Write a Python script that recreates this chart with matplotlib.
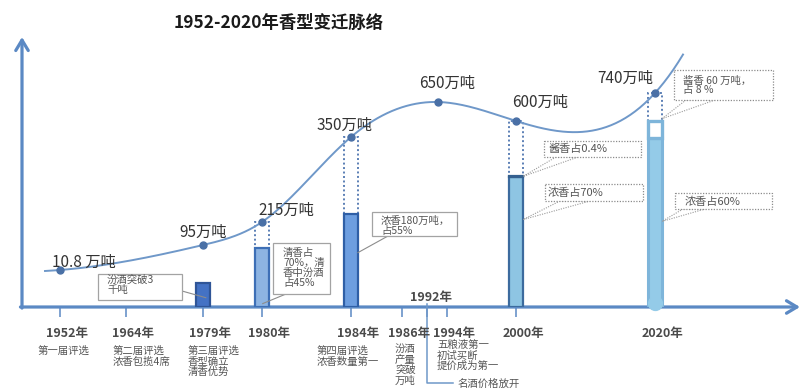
import numpy as np
import matplotlib
matplotlib.use('Agg')
import matplotlib.pyplot as plt
from matplotlib.patches import Rectangle, Polygon

plt.rcParams['font.family'] = ['Noto Sans CJK SC', 'DejaVu Sans']

# ---------------- data ----------------
title = '1952-2020年香型变迁脉络'

# baijiu output (万吨) along the curve
prod_years = ['1952', '1979', '1980', '1984', '1993', '2000', '2020']
prod_values = [10.8, 95, 215, 350, 650, 600, 740]
prod_labels = ['10.8 万吨', '95万吨', '215万吨', '350万吨', '650万吨', '600万吨', '740万吨']

# columns: total output and the share of each stacked layer
bar_years = ['1979', '1980', '1984', '2000', '2020']
bar_totals = [95, 215, 350, 600, 740]
bar_fill_share = [0.39, 0.70, 0.55, 0.70, 0.79]
bar_top_share = [0.0, 0.0, 0.0, 0.004, 0.08]

# timeline
tick_years = ['1952', '1964', '1979', '1980', '1984', '1986', '1994', '2000', '2020']
tick_labels = [y + '年' for y in tick_years]
event_year = '1992'
event_label = '1992年'
event_note = '名酒价格放开'
milestone_notes = {
    '1952': ['第一届评选'],
    '1964': ['第二届评选', '浓香包揽4席'],
    '1979': ['第三届评选', '香型确立', '清香优势'],
    '1984': ['第四届评选', '浓香数量第一'],
    '1986': ['汾酒', '产量', '突破', '万吨'],
    '1994': ['五粮液第一', '初试买断', '提价成为第一'],
}

# ---------------- layout ----------------
W, H = 803, 390
slot_x = {'1952': 60, '1964': 126, '1979': 203, '1980': 262, '1984': 351,
          '1986': 402, '1992': 427, '1993': 438, '1994': 447, '2000': 516,
          '2020': 655}
# schematic (not-to-scale) vertical axis: output -> height in px above baseline
scale_value = [0, 10.8, 95, 215, 350, 600, 650, 740]
scale_height = [0, 37, 62, 85, 170, 186, 205, 214]

axis_blue = '#5b89c4'
curve_blue = '#6f98c9'
dot_blue = '#4a70a6'
text_dark = '#333333'
note_grey = '#555555'

_v = np.array(scale_value, float)
_h = np.array(scale_height, float)
_lo = (_h[1] - _h[0]) / (_v[1] - _v[0])
_hi = (_h[-1] - _h[-2]) / (_v[-1] - _v[-2])
V_ext = np.concatenate([[_v[0] - 1e5], _v, [_v[-1] + 1e5]])
H_ext = np.concatenate([[_h[0] - 1e5 * _lo], _h, [_h[-1] + 1e5 * _hi]])


def fwd(v):
    return np.interp(np.asarray(v, float), V_ext, H_ext)


def inv(h):
    return np.interp(np.asarray(h, float), H_ext, V_ext)


def clamped_spline(x, y, s0, sn, xs):
    x = np.asarray(x, float)
    y = np.asarray(y, float)
    n = len(x)
    h = np.diff(x)
    A = np.zeros((n, n))
    b = np.zeros(n)
    A[0, 0], A[0, 1] = 2 * h[0], h[0]
    b[0] = 6 * ((y[1] - y[0]) / h[0] - s0)
    A[-1, -2], A[-1, -1] = h[-1], 2 * h[-1]
    b[-1] = 6 * (sn - (y[-1] - y[-2]) / h[-1])
    for i in range(1, n - 1):
        A[i, i - 1] = h[i - 1]
        A[i, i] = 2 * (h[i - 1] + h[i])
        A[i, i + 1] = h[i]
        b[i] = 6 * ((y[i + 1] - y[i]) / h[i] - (y[i] - y[i - 1]) / h[i - 1])
    M = np.linalg.solve(A, b)
    idx = np.clip(np.searchsorted(x, xs) - 1, 0, n - 2)
    x0, x1 = x[idx], x[idx + 1]
    hh = x1 - x0
    return (M[idx] * (x1 - xs) ** 3 / (6 * hh) + M[idx + 1] * (xs - x0) ** 3 / (6 * hh)
            + (y[idx] / hh - M[idx] * hh / 6) * (x1 - xs)
            + (y[idx + 1] / hh - M[idx + 1] * hh / 6) * (xs - x0))


fig = plt.figure(figsize=(W / 100, H / 100), dpi=100)
ax = fig.add_axes([22 / W, (H - 307) / H, (800 - 22) / W, 270 / H])
ax.set_xlim(22, 800)
ax.set_yscale('function', functions=(fwd, inv))
ax.set_ylim(0, float(inv(270)))
for s in ax.spines.values():
    s.set_visible(False)
ax.set_yticks([])
ax.set_xticks([slot_x[y] for y in tick_years if y != '2020'] + [slot_x[event_year]])
ax.tick_params(axis='x', direction='out', length=7.5, width=1.1, color=axis_blue,
               labelbottom=False)
ax.patch.set_alpha(0)

# overlay in pixel units for notes and callouts
ov = fig.add_axes([0, 0, 1, 1], zorder=5)
ov.set_xlim(0, W)
ov.set_ylim(H, 0)
ov.axis('off')


def to_px(x, v):
    d = ax.transData.transform((x, v))
    return ov.transData.inverted().transform(d)


# axes with arrow heads
arrow_kw = dict(arrowstyle='->,head_length=0.75,head_width=0.45', lw=2.3,
                color=axis_blue, shrinkA=0, shrinkB=0, capstyle='round')
ax.annotate('', xy=(0, 1), xytext=(0, -0.004), xycoords='axes fraction',
            arrowprops=arrow_kw, annotation_clip=False)
ax.annotate('', xy=(1, 0), xytext=(-0.002, 0), xycoords='axes fraction',
            arrowprops=arrow_kw, annotation_clip=False)

# columns
bw = 14
bar_face = ['#4472c4', '#8db4e2', '#6d9ee0', '#8ec5e3', '#94cbe8']
bar_edge = ['#2f5597', '#3d6fb6', '#2f5fa6', '#3c6b9e', '#7eb5da']
top_face = [None, None, None, '#7fb6d8', 'white']
top_edge = [None, None, None, '#34608f', '#7eb5da']
has_outline = [False, True, True, True, True]
for i, yr in enumerate(bar_years):
    x = slot_x[yr]
    Ht = float(fwd(bar_totals[i]))
    fill_top = float(inv(bar_fill_share[i] * Ht))
    if has_outline[i]:
        ax.bar(x, bar_totals[i], width=bw, fill=False, edgecolor='#5b7fb5',
               linestyle=(0, (1, 1.3)), lw=1.4, zorder=2)
    ax.bar(x, fill_top, width=bw, color=bar_face[i], edgecolor=bar_edge[i],
           lw=1.6 if i < 4 else 2.2, zorder=3)
    if bar_top_share[i] > 0:
        top = float(inv((bar_fill_share[i] + bar_top_share[i]) * Ht))
        ax.bar(x, top - fill_top, bottom=fill_top, width=bw, color=top_face[i],
               edgecolor=top_edge[i], lw=1.6 if i < 4 else 2.4, zorder=3)
ax.plot([slot_x['2020']], [float(inv(4))], 'o', ms=10, color='#94cbe8',
        clip_on=False, zorder=6)

# output curve (smooth, drawn in the axis' own display space)
px_x = np.array([slot_x[y] for y in prod_years], float)
px_h = fwd(prod_values)
xs = np.linspace(px_x[0] - 15, px_x[-1] + 28, 400)
hs = clamped_spline(px_x, px_h, 0.08, 1.1, xs)
ax.plot(xs, inv(hs), color=curve_blue, lw=1.4, zorder=4, clip_on=False)
ax.plot(px_x, prod_values, 'o', ms=5, color=dot_blue, zorder=5)

# value labels
label_offsets = [(24, -8), (0, -13), (24, -12), (-6, -12), (9, -19), (24, -19), (-30, -15)]
for yr, v, lab, (dx, dy) in zip(prod_years, prod_values, prod_labels, label_offsets):
    px, py = to_px(slot_x[yr], v)
    ov.text(px + dx, py + dy, lab, fontsize=11, color=text_dark,
            ha='center', va='center')

# title
ov.text(279, 23, title, fontsize=12.5, fontweight='bold', color='#1a1a1a',
        ha='center', va='center')

# timeline labels
for yr, lab in zip(tick_years, tick_labels):
    ov.text(slot_x[yr] + 7, 333, lab, fontsize=9, fontweight='bold',
            color='#4a4a4a', ha='center', va='center')

note_left = {'1952': 38, '1964': 113, '1979': 188, '1984': 317, '1986': 395, '1994': 437}
note_top = {'1952': 351, '1964': 351, '1979': 351, '1984': 351, '1986': 349, '1994': 345}
for yr, lines in milestone_notes.items():
    for k, line in enumerate(lines):
        ov.text(note_left[yr], note_top[yr] + k * 10.5, line, fontsize=7.5,
                color=note_grey, ha='left', va='center')

# 1992 marker
ex = slot_x[event_year]
ov.text(ex + 4, 297, event_label, fontsize=9, fontweight='bold',
        color='#4a4a4a', ha='center', va='center')
ov.plot([ex, ex, ex + 26], [304, 383, 383], color=curve_blue, lw=1.1)
ov.text(ex + 31, 383.5, event_note, fontsize=7.5, color=note_grey,
        ha='left', va='center')

# callouts
callouts = [
    dict(lines=['汾酒突破3', '千吨'], box=(98, 274, 84, 26), tx=107, ty=280, pitch=10,
         roots=[(182, 291)], bar='1979', frac=0.15, side=0.4, dotted=False),
    dict(lines=['清香占', '70%，清', '香中汾酒', '占45%'], box=(273, 243, 57, 51), tx=283,
         ty=253, pitch=10, roots=[(286, 294)], bar='1980', frac=0.04, side=0.1,
         dotted=False),
    dict(lines=['浓香180万吨，', '占55%'], box=(372, 212, 85, 24), tx=381, ty=220.5,
         pitch=10.5, roots=[(388, 236)], bar='1984', frac=0.32, side=1.0, dotted=False),
    dict(lines=['酱香占0.4%'], box=(544, 141, 97, 16), tx=548, ty=149, pitch=10,
         roots=[(556, 157), (578, 157)], bar='2000', frac=0.702, side=1.0, dotted=True),
    dict(lines=['浓香占70%'], box=(545, 184, 98, 17), tx=548, ty=193, pitch=10,
         roots=[(560, 201), (590, 201)], bar='2000', frac=0.47, side=1.0, dotted=True),
    dict(lines=['浓香占60%'], box=(675, 193, 97, 16), tx=685, ty=201.5, pitch=10,
         roots=[(683, 209), (705, 209)], bar='2020', frac=0.40, side=1.0, dotted=True),
    dict(lines=['酱香 60 万吨，', '占 8 %'], box=(674, 70, 99, 30), tx=683, ty=80.5,
         pitch=10, roots=[(686, 100), (715, 100)], bar='2020', frac=0.88, side=1.0,
         dotted=True),
]
for c in callouts:
    bi = bar_years.index(c['bar'])
    Ht = float(fwd(bar_totals[bi]))
    tx, ty = to_px(slot_x[c['bar']] + c['side'] * bw / 2, float(inv(c['frac'] * Ht)))
    ls = (0, (1, 1.2)) if c['dotted'] else '-'
    ec = '#8c8c8c' if c['dotted'] else '#a3a3a3'
    if len(c['roots']) == 1:
        rx, ry = c['roots'][0]
        ov.plot([rx, tx], [ry, ty], color='#8c8c8c', lw=0.8, zorder=6)
    else:
        (r1x, r1y), (r2x, r2y) = c['roots']
        ov.add_patch(Polygon([(r1x, r1y), (tx, ty), (r2x, r2y)], closed=True,
                             facecolor='white', edgecolor='#9a9a9a', lw=0.8,
                             linestyle=ls, zorder=6))
    bx, by, bwid, bht = c['box']
    ov.add_patch(Rectangle((bx, by), bwid, bht, facecolor='white', edgecolor=ec,
                           lw=0.9, linestyle=ls, zorder=7))
    fs = 7.5 if len(c['lines']) > 1 else 8
    for k, line in enumerate(c['lines']):
        ov.text(c['tx'], c['ty'] + k * c['pitch'], line, fontsize=fs, color=note_grey,
                ha='left', va='center', zorder=8)

fig.savefig('out.png', dpi=100)
